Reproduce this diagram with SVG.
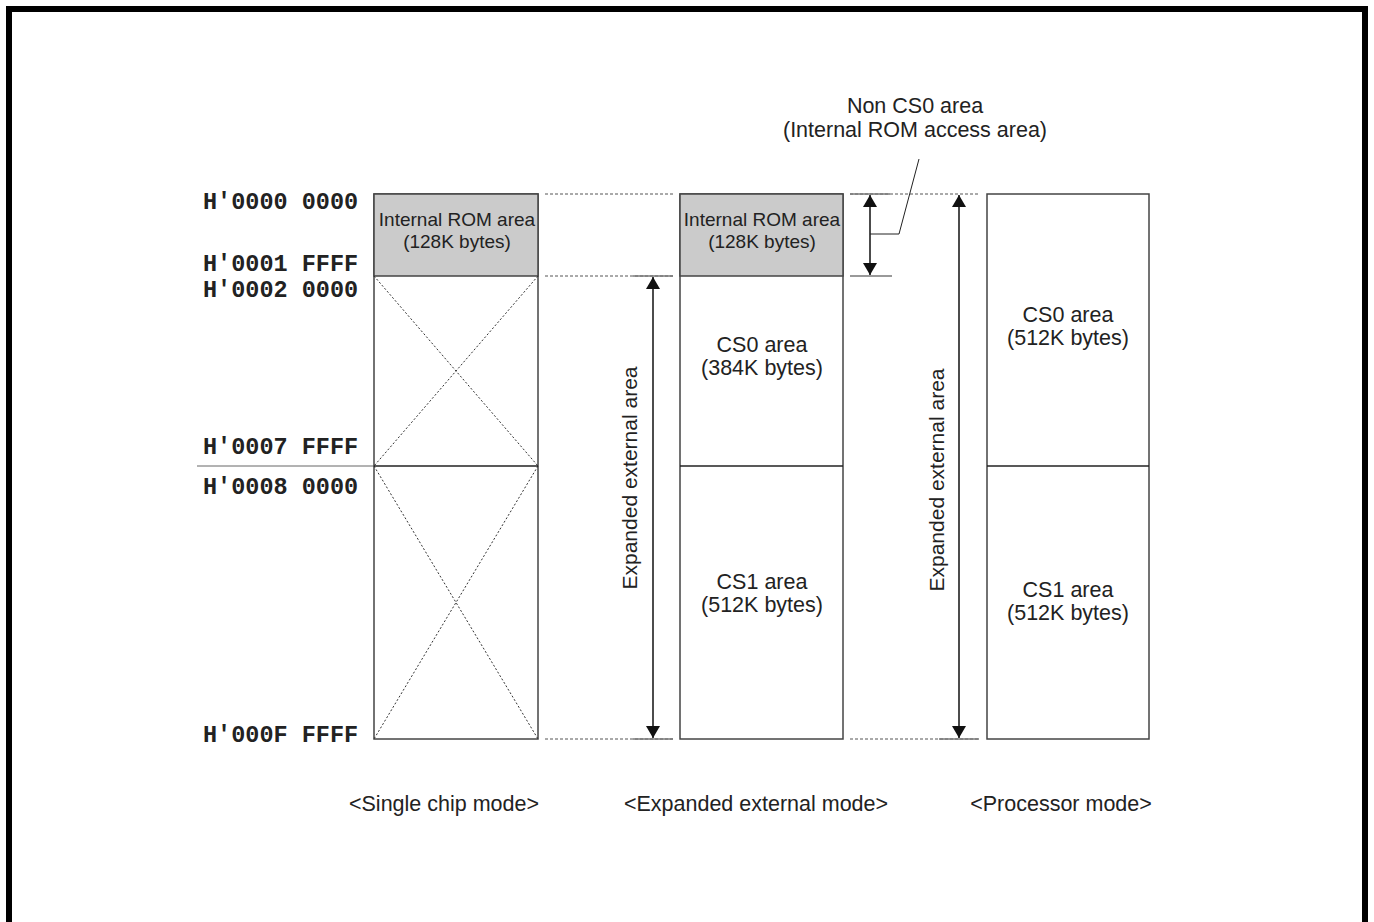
<svg xmlns="http://www.w3.org/2000/svg" width="1374" height="922" viewBox="0 0 1374 922">
<style>
.frame{fill:none;stroke:#000;stroke-width:6}
.box{fill:#fff;stroke:#444;stroke-width:1.5}
.rom{fill:#cbcbcb;stroke:#444;stroke-width:1.5}
.div{stroke:#222;stroke-width:1.5;fill:none}
.dot{stroke:#555;stroke-width:1;stroke-dasharray:3 2;fill:none}
.xl{stroke:#333;stroke-width:1;stroke-dasharray:2 2;fill:none}
.sol{stroke:#777;stroke-width:1.5;fill:none}
.arr{stroke:#111;stroke-width:1.5;fill:none;marker-start:url(#ah);marker-end:url(#ah)}
.lead{stroke:#222;stroke-width:1;fill:none}
.addr{font-family:"Liberation Mono",monospace;font-weight:bold;font-size:23.5px;fill:#222}
.t{font-family:"Liberation Sans",Arial,sans-serif;font-size:21.5px;fill:#222;text-anchor:middle}
.rt{font-family:"Liberation Sans",Arial,sans-serif;font-size:19px;fill:#222;text-anchor:middle}
</style>
<defs>
<marker id="ah" markerWidth="14" markerHeight="14" refX="12" refY="7" orient="auto-start-reverse" markerUnits="userSpaceOnUse">
<path d="M0,0 L12,7 L0,14 Z" fill="#111"/>
</marker>
</defs>
<path class="frame" d="M9,940 V9 H1365 V940"/>
<g id="connectors">
<line class="dot" x1="545" y1="194" x2="673" y2="194"/>
<line class="dot" x1="545" y1="276" x2="673" y2="276"/>
<line class="sol" x1="633" y1="276" x2="673" y2="276"/>
<line class="dot" x1="545" y1="739" x2="673" y2="739"/>
<line class="sol" x1="633" y1="739" x2="673" y2="739"/>
<line class="dot" x1="850" y1="194" x2="980" y2="194"/>
<line class="sol" x1="850" y1="194" x2="890" y2="194"/>
<line class="sol" x1="850" y1="276" x2="892" y2="276"/>
<line class="dot" x1="850" y1="739" x2="980" y2="739"/>
<line class="sol" x1="939" y1="739" x2="979" y2="739"/>
<line class="arr" x1="653" y1="277" x2="653" y2="738"/>
<line class="arr" x1="870" y1="195" x2="870" y2="275"/>
<line class="arr" x1="959" y1="195" x2="959" y2="738"/>
<polyline class="lead" points="870,234 899,234 919,159"/>
<line x1="197" y1="466" x2="374" y2="466" style="stroke:#666;stroke-width:1"/>
</g>
<g id="addresses">
<text class="addr" x="203" y="209">H'0000 0000</text>
<text class="addr" x="203" y="271">H'0001 FFFF</text>
<text class="addr" x="203" y="297">H'0002 0000</text>
<text class="addr" x="203" y="454">H'0007 FFFF</text>
<text class="addr" x="203" y="494">H'0008 0000</text>
<text class="addr" x="203" y="742">H'000F FFFF</text>
</g>
<g id="single-chip">
<rect class="box" x="374" y="194" width="164" height="545"/>
<rect class="rom" x="374" y="194" width="164" height="82"/>
<line class="xl" x1="374" y1="276" x2="538" y2="466"/>
<line class="xl" x1="538" y1="276" x2="374" y2="466"/>
<line class="xl" x1="374" y1="466" x2="538" y2="739"/>
<line class="xl" x1="538" y1="466" x2="374" y2="739"/>
<line class="div" x1="374" y1="466" x2="538" y2="466"/>
<text class="rt" x="457" y="226">Internal ROM area</text>
<text class="rt" x="457" y="248">(128K bytes)</text>
<text class="t" x="444" y="811">&lt;Single chip mode&gt;</text>
</g>
<g id="expanded">
<rect class="box" x="680" y="194" width="163" height="545"/>
<rect class="rom" x="680" y="194" width="163" height="82"/>
<line class="div" x1="680" y1="466" x2="843" y2="466"/>
<text class="rt" x="762" y="226">Internal ROM area</text>
<text class="rt" x="762" y="248">(128K bytes)</text>
<text class="t" x="762" y="352">CS0 area</text>
<text class="t" x="762" y="375">(384K bytes)</text>
<text class="t" x="762" y="589">CS1 area</text>
<text class="t" x="762" y="612">(512K bytes)</text>
<text class="t" transform="translate(637,478) rotate(-90)" style="font-size:21px">Expanded external area</text>
<text class="t" x="756" y="811">&lt;Expanded external mode&gt;</text>
</g>
<g id="processor">
<rect class="box" x="987" y="194" width="162" height="545"/>
<line class="div" x1="987" y1="466" x2="1149" y2="466"/>
<text class="t" x="1068" y="322">CS0 area</text>
<text class="t" x="1068" y="345">(512K bytes)</text>
<text class="t" x="1068" y="597">CS1 area</text>
<text class="t" x="1068" y="620">(512K bytes)</text>
<text class="t" transform="translate(944,480) rotate(-90)" style="font-size:21px">Expanded external area</text>
<text class="t" x="1061" y="811">&lt;Processor mode&gt;</text>
</g>
<g id="non-cs0-label">
<text class="t" x="915" y="113">Non CS0 area</text>
<text class="t" x="915" y="137">(Internal ROM access area)</text>
</g>
</svg>
